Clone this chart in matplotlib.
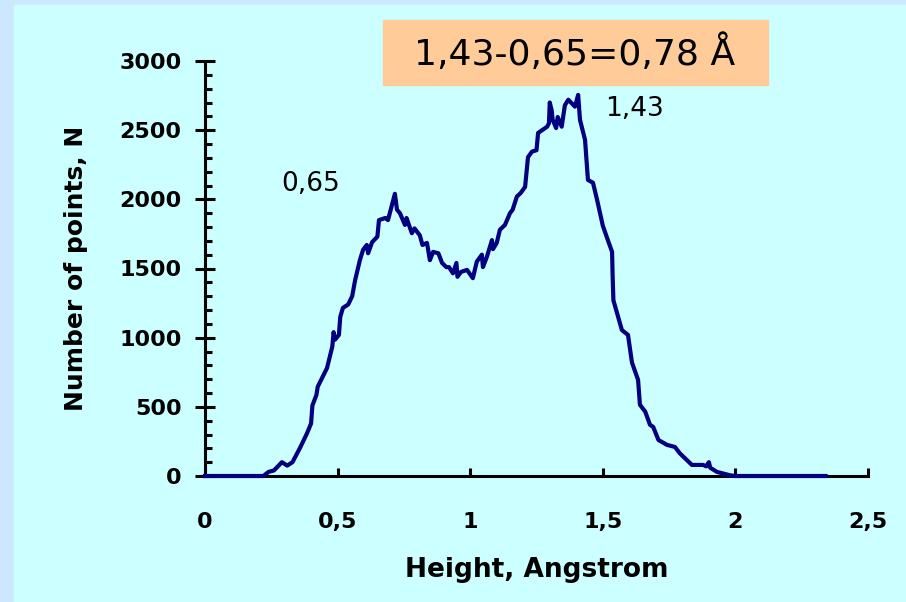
#!/usr/bin/env python3
"""Height histogram of a surface scan: number of points vs height."""

import matplotlib
matplotlib.use("Agg")
import matplotlib.pyplot as plt
from matplotlib.patches import Rectangle
from matplotlib.ticker import MultipleLocator, FuncFormatter

# Height (Angstrom) and number of points
height = [0.0, 0.22, 0.24, 0.26, 0.29, 0.31, 0.33, 0.36, 0.385, 0.40,
          0.405, 0.42, 0.425, 0.46, 0.48, 0.485, 0.49, 0.505, 0.51, 0.52,
          0.54, 0.555, 0.566, 0.584, 0.596, 0.61, 0.615, 0.63, 0.65, 0.656,
          0.68, 0.69, 0.716, 0.724, 0.735, 0.754, 0.76, 0.78, 0.79, 0.81,
          0.82, 0.837, 0.848, 0.86, 0.88, 0.894, 0.91, 0.92, 0.935, 0.948,
          0.952, 0.965, 0.988, 1.01, 1.025, 1.044, 1.048, 1.063, 1.082, 1.086,
          1.10, 1.112, 1.131, 1.15, 1.16, 1.176, 1.19, 1.207, 1.218, 1.233,
          1.25, 1.256, 1.29, 1.297, 1.30, 1.307, 1.311, 1.324, 1.33, 1.345,
          1.357, 1.37, 1.395, 1.407, 1.414, 1.433, 1.444, 1.463, 1.478, 1.50,
          1.52, 1.535, 1.537, 1.54, 1.572, 1.595, 1.61, 1.633, 1.64, 1.66,
          1.678, 1.69, 1.71, 1.742, 1.772, 1.79, 1.836, 1.878, 1.89, 1.90,
          1.905, 1.93, 1.98, 2.0, 2.34]
points = [0, 0, 30, 40, 100, 75, 100, 210, 310, 380,
          510, 585, 645, 780, 935, 1040, 985, 1020, 1150, 1215,
          1240, 1300, 1415, 1560, 1635, 1670, 1610, 1690, 1730, 1850,
          1865, 1850, 2040, 1925, 1900, 1815, 1865, 1755, 1790, 1740,
          1670, 1685, 1560, 1620, 1610, 1540, 1510, 1510, 1465, 1540,
          1440, 1475, 1490, 1430, 1550, 1600, 1510, 1585, 1705, 1640,
          1685, 1780, 1815, 1900, 1925, 2020, 2045, 2090, 2305, 2345,
          2355, 2480, 2525, 2550, 2700, 2645, 2575, 2515, 2595, 2525,
          2680, 2720, 2670, 2755, 2575, 2430, 2140, 2120, 2000, 1810,
          1700, 1620, 1450, 1270, 1055, 1020, 820, 695, 515, 465,
          370, 355, 260, 225, 210, 165, 80, 80, 70, 100,
          60, 30, 5, 0, 0]

peak_labels = ["0,65", "1,43"]
peak_label_pos = [(0.40, 2110), (1.62, 2650)]
box_text = "1,43-0,65=0,78 Å"

CYAN = "#CCFFFF"
EDGE = "#CCE8FF"
PEACH = "#FFCC99"
NAVY = "#000080"

fig = plt.figure(figsize=(9.06, 6.02), dpi=100, facecolor=EDGE)
fig.patches.append(Rectangle((14 / 906, 0), 1, 1 - 5 / 602,
                             transform=fig.transFigure, color=CYAN,
                             zorder=-10))

ax = fig.add_axes([205 / 906, 1 - 476 / 602, 663 / 906, 415 / 602])
ax.set_facecolor("none")

ax.plot(height, points, color=NAVY, lw=3, zorder=5, clip_on=False)

ax.set_xlim(0, 2.5)
ax.set_ylim(0, 3000)
for s in ("top", "right"):
    ax.spines[s].set_visible(False)
for s in ("left", "bottom"):
    ax.spines[s].set_linewidth(2.2)

comma = FuncFormatter(lambda v, _: f"{v:g}".replace(".", ","))
ax.xaxis.set_major_locator(MultipleLocator(0.5))
ax.xaxis.set_major_formatter(comma)
ax.yaxis.set_major_locator(MultipleLocator(500))
ax.yaxis.set_minor_locator(MultipleLocator(100))
ax.tick_params(axis="x", direction="in", length=6, width=2.2, pad=26,
               labelsize=16)
ax.tick_params(axis="y", which="major", direction="inout", length=14,
               width=2.2, pad=10, labelsize=16)
ax.tick_params(axis="y", which="minor", direction="in", length=5, width=2.2)
for lab in ax.get_xticklabels() + ax.get_yticklabels():
    lab.set_fontweight("bold")

ax.set_xlabel("Height, Angstrom", fontsize=19, fontweight="bold", labelpad=18)
ax.set_ylabel("Number of points, N", fontsize=18, fontweight="bold",
              labelpad=22)

for txt, (x, y) in zip(peak_labels, peak_label_pos):
    ax.text(x, y, txt, fontsize=19, ha="center", va="center")

fig.patches.append(Rectangle((383 / 906, 1 - 85 / 602), 385 / 906, 65 / 602,
                             transform=fig.transFigure, color=PEACH, zorder=1))
fig.text(575 / 906, 1 - 53 / 602, box_text, fontsize=26, ha="center",
         va="center", zorder=2)

fig.savefig("out.png", dpi=100, facecolor=fig.get_facecolor())
